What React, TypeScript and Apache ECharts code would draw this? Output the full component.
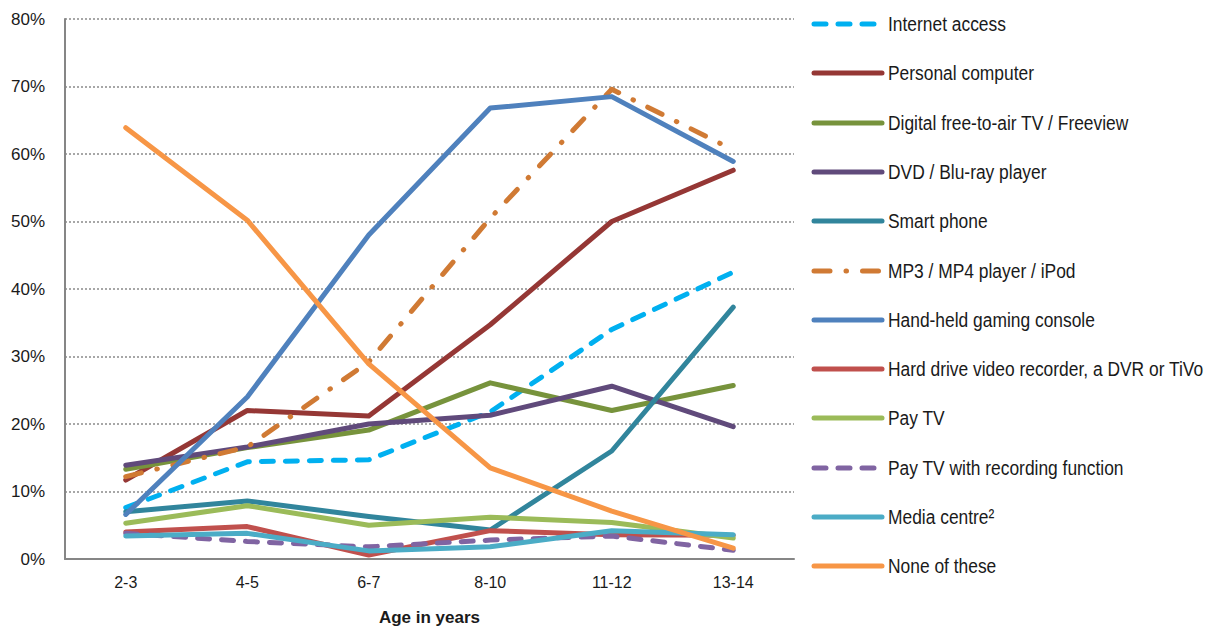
import React, { useEffect, useRef } from "react";
import * as echarts from "echarts";

// Age groups on the x axis
const ageGroups = ["2-3", "4-5", "6-7", "8-10", "11-12", "13-14"];

// Share of children with each device, by age group (%)
const internetAccess = [7.6, 14.4, 14.7, 21.8, 34.0, 42.5];
const personalComputer = [11.7, 22.0, 21.2, 34.7, 50.0, 57.6];
const digitalFreeview = [13.3, 16.5, 19.1, 26.1, 22.0, 25.7];
const dvdBluray = [13.9, 16.6, 20.0, 21.3, 25.6, 19.6];
const smartPhone = [7.0, 8.6, 6.3, 4.3, 16.0, 37.3];
const mp3Player = [12.2, 16.6, 29.2, 50.5, 69.6, 60.6];
const handheldConsole = [6.6, 24.0, 48.0, 66.8, 68.5, 58.9];
const hardDriveRecorder = [4.0, 4.8, 0.6, 4.2, 3.6, 3.5];
const payTv = [5.3, 7.9, 5.0, 6.2, 5.4, 3.1];
const payTvRecording = [3.8, 2.6, 1.8, 2.8, 3.4, 1.3];
const mediaCentre = [3.4, 3.8, 1.2, 1.8, 4.2, 3.6];
const noneOfThese = [63.9, 50.2, 28.9, 13.5, 7.1, 1.6];

const yTicks = [0, 10, 20, 30, 40, 50, 60, 70, 80];

const FONT = "'Liberation Sans', Arial, sans-serif";
const LINE_WIDTH = 5;

type SeriesDef = {
  name: string;
  data: number[];
  color: string;
  dash?: number[];
};

const DASHED = [12, 12];
const DASH_DOT = [16, 16, 0.5, 16];

const seriesDefs: SeriesDef[] = [
  { name: "Internet access", data: internetAccess, color: "#00B0F0", dash: DASHED },
  { name: "Personal computer", data: personalComputer, color: "#953735" },
  { name: "Digital free-to-air TV / Freeview", data: digitalFreeview, color: "#77933C" },
  { name: "DVD / Blu-ray player", data: dvdBluray, color: "#604A7B" },
  { name: "Smart phone", data: smartPhone, color: "#31859C" },
  { name: "MP3 / MP4 player / iPod", data: mp3Player, color: "#D07A34", dash: DASH_DOT },
  { name: "Hand-held gaming console", data: handheldConsole, color: "#4F81BD" },
  { name: "Hard drive video recorder, a DVR or TiVo", data: hardDriveRecorder, color: "#C0504D" },
  { name: "Pay TV", data: payTv, color: "#9BBB59" },
  { name: "Pay TV with recording function", data: payTvRecording, color: "#8064A2", dash: DASHED },
  { name: "Media centre²", data: mediaCentre, color: "#4BACC6" },
  { name: "None of these", data: noneOfThese, color: "#F79646" },
];

// Legend column on the right: key line + condensed label per series
function buildLegend() {
  const left = 814;
  const keyLength = 68;
  const top = 24;
  const step = 49.3;
  const children: any[] = [];
  seriesDefs.forEach((s, i) => {
    const y = Math.round(top + i * step);
    children.push({
      type: "line",
      shape: { x1: left, y1: y, x2: left + keyLength, y2: y },
      style: {
        stroke: s.color,
        lineWidth: LINE_WIDTH,
        lineCap: "round",
        lineDash: s.dash ?? null,
      },
      silent: true,
    });
    children.push({
      type: "text",
      x: 888,
      y: y,
      scaleX: 0.87,
      style: {
        text: s.name,
        fill: "#1a1a1a",
        fontSize: 20,
        fontFamily: FONT,
        textAlign: "left",
        textVerticalAlign: "middle",
        verticalAlign: "middle",
      },
      silent: true,
    });
  });
  return children;
}

export default function App() {
  const ref = useRef<HTMLDivElement>(null);

  useEffect(() => {
    if (!ref.current) return;
    const chart = echarts.init(ref.current, undefined, { renderer: "svg" });

    const series = seriesDefs.map((s) => ({
      name: s.name,
      type: "line" as const,
      data: s.data,
      symbol: "none",
      smooth: false,
      color: s.color,
      lineStyle: {
        color: s.color,
        width: LINE_WIDTH,
        type: s.dash ?? "solid",
        cap: "round" as const,
        join: "round" as const,
      },
    }));

    chart.setOption({
      animation: false,
      backgroundColor: "#ffffff",
      textStyle: { fontFamily: FONT },
      grid: {
        left: 65,
        top: 19,
        width: 729,
        height: 540,
        containLabel: false,
        outerBoundsMode: "none",
      },
      xAxis: {
        type: "category",
        data: ageGroups,
        boundaryGap: true,
        name: "Age in years",
        nameLocation: "middle",
        nameGap: 50,
        nameTextStyle: { fontFamily: FONT, fontSize: 17, fontWeight: "bold", color: "#1a1a1a" },
        axisLine: { lineStyle: { color: "#868686", width: 2 } },
        axisTick: { show: false },
        axisLabel: { fontFamily: FONT, fontSize: 16, color: "#1a1a1a", margin: 15 },
        splitLine: { show: false },
      },
      yAxis: {
        type: "value",
        min: 0,
        max: 80,
        interval: 10,
        axisLine: { show: true, lineStyle: { color: "#868686", width: 2 } },
        axisTick: { show: false },
        axisLabel: {
          fontFamily: FONT,
          fontSize: 17,
          color: "#1a1a1a",
          margin: 20,
          formatter: (v: number) => (yTicks.includes(v) ? `${v}%` : ""),
        },
        splitLine: { show: true, lineStyle: { color: "#8a8a8a", width: 1.5, type: [2, 2] } },
      },
      graphic: [{ type: "group", children: buildLegend() }],
      series,
    });

    return () => chart.dispose();
  }, []);

  return (
    <div
      ref={ref}
      style={{ position: "fixed", left: 0, top: 0, width: 1224, height: 629, background: "#fff" }}
    />
  );
}
